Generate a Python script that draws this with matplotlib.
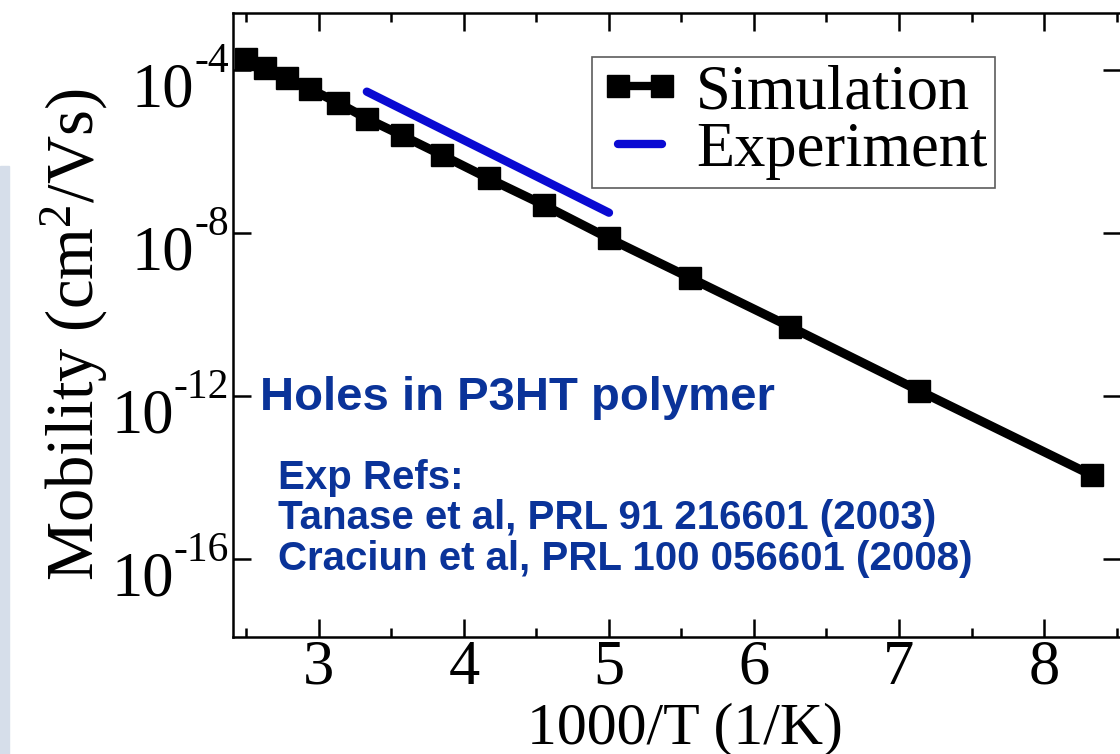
import matplotlib
matplotlib.use("Agg")
import matplotlib.pyplot as plt
from matplotlib.patches import Rectangle
from matplotlib.ticker import FixedLocator, NullFormatter, NullLocator
import numpy as np

# ---------------- data ----------------
sim_x = [2.50, 2.63, 2.78, 2.94, 3.13, 3.33, 3.57, 3.85, 4.17, 4.55, 5.00, 5.56, 6.25, 7.14, 8.33]
sim_log_mu = [-3.72, -3.94, -4.20, -4.47, -4.80, -5.19, -5.60, -6.09, -6.66, -7.31, -8.13,
              -9.10, -10.30, -11.87, -13.94]
exp_x = [3.33, 5.00]
exp_log_mu = [-4.53, -7.50]
y_major_exp = [-4, -8, -12, -16]
x_major = [3, 4, 5, 6, 7, 8]
x_minor = [2.5, 3.5, 4.5, 5.5, 6.5, 7.5, 8.5]

sim_mu = [10.0 ** v for v in sim_log_mu]
exp_mu = [10.0 ** v for v in exp_log_mu]

plt.rcParams['mathtext.fontset'] = 'custom'
plt.rcParams['mathtext.rm'] = 'Liberation Serif'
plt.rcParams['mathtext.default'] = 'regular'

SERIF = 'Liberation Serif'
SANS = 'Liberation Sans'
BLUE_TXT = '#0a3399'

fig = plt.figure(figsize=(11.2, 7.54), dpi=100)
fig.patches.append(Rectangle((0, 0), 9 / 1120, 0.78, transform=fig.transFigure,
                             color='#d6deea', zorder=0))

ax = fig.add_axes([233 / 1120, 117 / 754, 888 / 1120, 624 / 754])
ax.set_yscale('log')
ax.set_xlim(2.407, 8.531)
ax.set_ylim(10 ** -17.91, 10 ** -2.60)

ax.plot(sim_x, sim_mu, color='black', lw=6.5, marker='s', ms=16.5,
        solid_capstyle='butt', label='Simulation', zorder=3)
ax.plot(exp_x, exp_mu, color='#0a0ad2', lw=6, solid_capstyle='round',
        label='Experiment', zorder=4)

for s in ax.spines.values():
    s.set_linewidth(1.8)

ax.xaxis.set_major_locator(FixedLocator(x_major))
ax.xaxis.set_minor_locator(FixedLocator(x_minor))
ax.set_xticklabels([str(v) for v in x_major])
ax.yaxis.set_major_locator(FixedLocator([10.0 ** e for e in y_major_exp]))
ax.yaxis.set_minor_locator(NullLocator())
ax.yaxis.set_major_formatter(NullFormatter())
ax.yaxis.set_minor_formatter(NullFormatter())

ax.tick_params(which='major', direction='in', length=13, width=1.8,
               top=True, right=True, labelsize=45, pad=2)
ax.tick_params(which='minor', direction='in', length=6.5, width=1.8,
               top=True, right=True)
for lab in ax.get_xticklabels():
    lab.set_fontfamily(SERIF)

# y tick labels: 10 with small raised exponent
ytr = ax.get_yaxis_transform()
for e in y_major_exp:
    sup = ax.annotate('-%d' % abs(e), xy=(0, 10.0 ** e), xycoords=ytr,
                      xytext=(-4, -2), textcoords='offset pixels',
                      ha='right', va='baseline', fontsize=30, family=SERIF,
                      annotation_clip=False)
    ax.annotate('10', xy=(0, 10.0 ** e), xycoords=(sup, ytr),
                xytext=(0, -36), textcoords='offset pixels',
                ha='right', va='baseline', fontsize=45, family=SERIF,
                annotation_clip=False)

ax.set_xlabel('1000/T (1/K)', fontsize=43, family=SERIF)
ax.xaxis.set_label_coords(0.509, -0.17)
ax.xaxis.label.set_va('baseline')
ax.set_ylabel('Mobility (cm$^{2}$/Vs)', fontsize=48, family=SERIF)
ax.yaxis.set_label_coords(-0.138, 0.485)

leg = ax.legend(loc='upper left', bbox_to_anchor=(0.404, 0.93), borderaxespad=0,
                prop={'family': SERIF, 'size': 45}, frameon=True, fancybox=False,
                edgecolor='#333333', numpoints=2, handlelength=1.3,
                handletextpad=0.25, borderpad=0.12, labelspacing=0.0)
leg.get_frame().set_linewidth(1.2)
for h in leg.legend_handles:
    h.set_linewidth(6)

ax.text(0.0304, 0.383, 'Holes in P3HT polymer', transform=ax.transAxes,
        ha='left', va='center', fontsize=34, fontweight='bold', family=SANS,
        color=BLUE_TXT)
ax.text(0.0507, 0.190,
        'Exp Refs:\nTanase et al, PRL 91 216601 (2003)\nCraciun et al, PRL 100 056601 (2008)',
        transform=ax.transAxes, ha='left', va='center', fontsize=29,
        fontweight='bold', family=SANS, color=BLUE_TXT, linespacing=1.08)

fig.savefig('out.png', dpi=100)
